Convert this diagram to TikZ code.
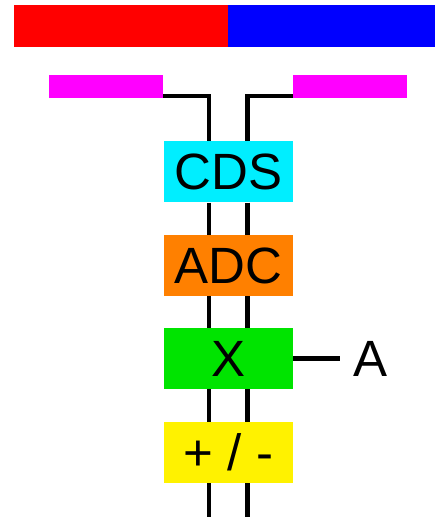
\documentclass[tikz,border=0pt]{standalone}
\usepackage{fontspec}
\setmainfont{Liberation Sans}
\usetikzlibrary{positioning,calc}

\definecolor{cdscol}{RGB}{0,238,255}
\definecolor{adccol}{RGB}{255,128,0}
\definecolor{mulcol}{RGB}{0,228,0}
\definecolor{padcol}{RGB}{255,0,255}

\tikzset{
  blk/.style={minimum width=129pt,minimum height=61pt,inner sep=0pt,font=\fontsize{51}{51}\selectfont},
  pad/.style={fill=padcol,minimum width=114pt,minimum height=23pt,inner sep=0pt},
  wire/.style={line width=4.5pt}
}

\begin{document}
\begin{tikzpicture}[x=1pt,y=1pt]
  \useasboundingbox (0,0) rectangle (435,517);
  % Top bar
  \fill[red] (14,470) rectangle (228,512);
  \fill[blue] (228,470) rectangle (435,512);

  % Pads
  \node[pad] (lpad) at (106,430.5) {};
  \node[pad] (rpad) at (350,430.5) {};

  % Blocks
  \node[blk,fill=cdscol] (cds) at (228.5,345) {CDS};
  \node[blk,fill=adccol] (adc) at (228.5,251.5) {ADC};
  \node[blk,fill=mulcol] (mult) at (228.5,158.5) {X};
  \node[blk,fill=yellow] (addsub) at (228.5,64.5) {+ / -};
  \node[font=\fontsize{51}{51}\selectfont,inner sep=0pt,anchor=west] (gain) at (353,158.5) {A};

  % Wires
  \draw[wire] ([yshift=2pt]lpad.south east) -| ([xshift=-19.5pt]cds.north);
  \draw[wire] ([yshift=2pt]rpad.south west) -| ([xshift=19pt]cds.north);
  \foreach \a/\b in {cds/adc,adc/mult,mult/addsub} {
    \draw[wire] ([xshift=-19.5pt]\a.south) -- ([xshift=-19.5pt]\b.north);
    \draw[wire] ([xshift=19pt]\a.south) -- ([xshift=19pt]\b.north);
  }
  \coordinate (bl) at (209,0);
  \coordinate (br) at (247.5,0);
  \draw[wire] (addsub.south -| bl) -- (bl);
  \draw[wire] (addsub.south -| br) -- (br);
  \draw[wire] (mult.east) -- ([xshift=-13pt]gain.west);
\end{tikzpicture}
\end{document}
